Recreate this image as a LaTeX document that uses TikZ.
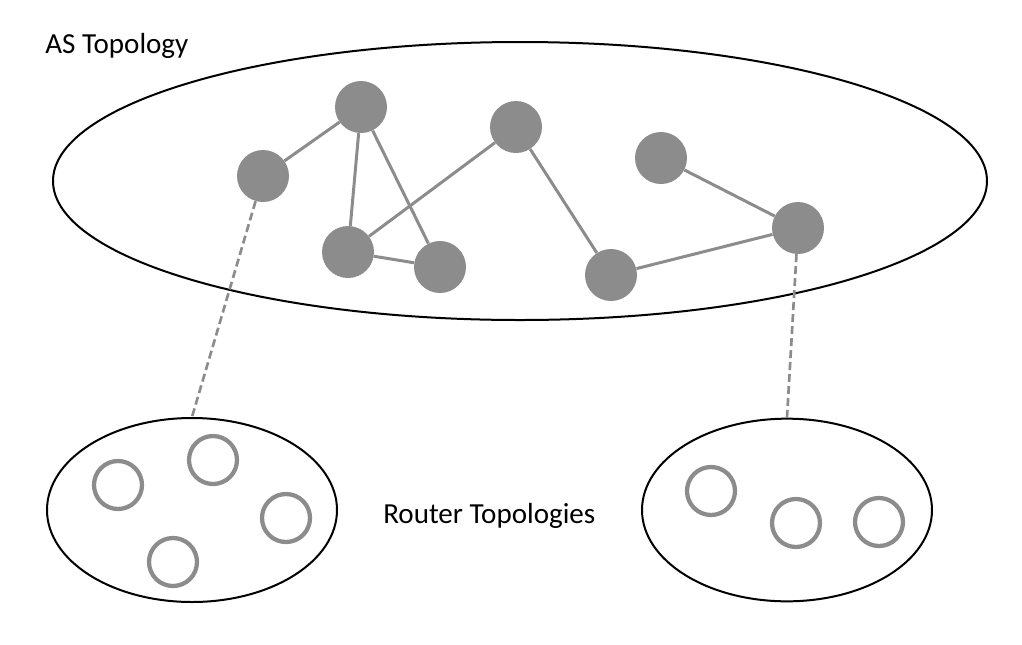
\documentclass[tikz,border=0pt]{standalone}
\usepackage{fontspec}
\setmainfont{Carlito}
\usetikzlibrary{shapes.geometric}
\definecolor{nodegray}{HTML}{8C8C8C}
\begin{document}
\begin{tikzpicture}[x=0.75pt,y=-0.75pt,
  asnode/.style={circle,fill=nodegray,draw=none,minimum size=39pt,inner sep=0pt},
  rtnode/.style={circle,draw=nodegray,line width=3.2pt,minimum size=36pt,inner sep=0pt},
  link/.style={draw=nodegray,line width=2.25pt},
  dlink/.style={draw=nodegray,line width=2pt,dash pattern=on 6pt off 3pt},
  bigell/.style={ellipse,draw=black,line width=1.5pt,inner sep=0pt},
  lbl/.style={font=\fontsize{21.8}{26}\selectfont,inner sep=0pt}]
\useasboundingbox (0,0) rectangle (1022,644);
\node[bigell,minimum width=700.5pt,minimum height=208.5pt] (AS) at (520,181) {};
\node[bigell,minimum width=217.5pt,minimum height=138pt] (L) at (192,510) {};
\node[bigell,minimum width=217.5pt,minimum height=137pt] (R) at (787,510) {};
\node[lbl,anchor=base west] (t1) at (45,53) {AS Topology};
\node[lbl,anchor=base west] (t2) at (383,523) {Router Topologies};
\node[asnode] (A) at (263,176) {};
\node[asnode] (B) at (361,107) {};
\node[asnode] (C) at (516,127) {};
\node[asnode] (D) at (661,158) {};
\node[asnode] (E) at (348,252) {};
\node[asnode] (F) at (440,267) {};
\node[asnode] (G) at (611,275) {};
\node[asnode] (H) at (798,228) {};
\draw[link] (A) -- (B);
\draw[link] (B) -- (E);
\draw[link] (B) -- (F);
\draw[link] (E) -- (F);
\draw[link] (E) -- (C);
\draw[link] (C) -- (G);
\draw[link] (G) -- (H);
\draw[link] (D) -- (H);
\draw[dlink] (A) -- (L.north);
\draw[dlink] (H) -- (R.north);
\node[rtnode] (l1) at (118,485) {};
\node[rtnode] (l2) at (213,460) {};
\node[rtnode] (l3) at (286,518) {};
\node[rtnode] (l4) at (173,562) {};
\node[rtnode] (r1) at (711,491) {};
\node[rtnode] (r2) at (796,523) {};
\node[rtnode] (r3) at (879,522) {};
\end{tikzpicture}
\end{document}
